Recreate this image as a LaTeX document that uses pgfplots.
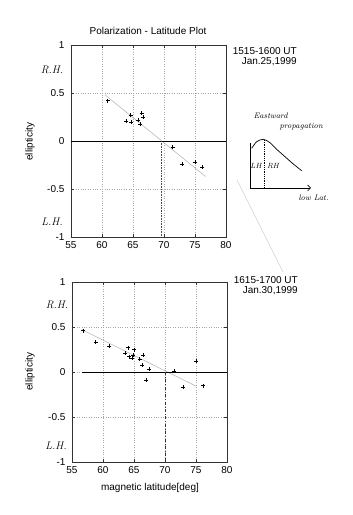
\documentclass[border=0pt]{standalone}
\usepackage{pgfplots}
\pgfplotsset{compat=1.18}
\usetikzlibrary{arrows.meta}
\usepackage{fontspec}
\newfontfamily\sans{Liberation Sans}
\begin{document}
\begin{tikzpicture}[x=1pt,y=1pt]
\useasboundingbox (0,0) rectangle (353pt,515pt);
\fill[white] (0,0) rectangle (353pt,515pt);
\pgfplotsset{
  myax/.style={
    scale only axis, anchor=south west,
    xmin=55, xmax=80, ymin=-1, ymax=1,
    xtick={55,60,65,70,75,80},
    ytick={-1,-0.5,0,0.5,1},
    grid=major, grid style={dotted, black!35, line width=0.4pt},
    tick align=inside, major tick length=3pt,
    tick style={black!80, line width=0.5pt},
    axis line style={black!80, line width=0.6pt},
    ticklabel style={font=\sans\fontsize{10}{12}\selectfont},
    /pgf/number format/assume math mode=true,
    yticklabel style={xshift=-3pt},
    xticklabel style={yshift=-1pt},
    clip=false,
  },
  pts/.style={only marks, mark=+, mark size=2pt, black, mark options={line width=0.5pt}},
}
% ---------------- top plot ----------------
\begin{axis}[myax, at={(71pt,278pt)}, width=155pt, height=192pt]
\addplot[black!30, line width=0.5pt] coordinates {(60.5,0.48) (76.7,-0.37)};
\addplot[black, line width=0.6pt] coordinates {(55,0) (80,0)};
\addplot[black!70, densely dotted, line width=0.6pt] coordinates {(69.6,0) (69.6,-1)};
\addplot[pts] coordinates {
(60.9,0.42) (64.6,0.27) (63.9,0.21) (64.7,0.20) (65.8,0.22) (66.4,0.29)
(66.6,0.25) (66.2,0.175) (71.4,-0.065) (72.9,-0.24) (75.0,-0.22) (76.1,-0.27)
};
\end{axis}
% ---------------- bottom plot ----------------
\begin{axis}[myax, at={(72pt,53pt)}, width=155pt, height=180pt]
\addplot[black!30, line width=0.5pt] coordinates {(56.6,0.47) (74.95,-0.155)};
\addplot[black, line width=0.6pt] coordinates {(56.6,0) (80,0)};
\addplot[black!80, dashdotted, line width=0.6pt] coordinates {(70,0) (70,-1)};
\addplot[pts] coordinates {
(56.8,0.46) (58.8,0.33) (61.0,0.285) (64.0,0.27) (65.05,0.25) (63.6,0.21)
(64.2,0.17) (64.8,0.19) (64.7,0.155) (66.45,0.185) (65.9,0.14) (66.3,0.075)
(67.4,0.03) (67.0,-0.09) (71.5,0.01) (72.9,-0.17) (75.05,0.12) (76.1,-0.15)
};
\end{axis}
% ---------------- sketch inset ----------------
\begin{axis}[at={(235pt,305pt)}, anchor=south west, scale only axis, hide axis,
  width=100pt, height=100pt, xmin=235, xmax=335, ymin=305, ymax=405, clip=false]
\addplot[black, line width=0.6pt] coordinates {(250,371.7) (250,327) (310,327)};
\addplot[black, line width=0.6pt, -{Straight Barb[length=3pt]}] coordinates {(300,327) (311,327)};
\addplot[black, line width=0.7pt, smooth] coordinates {
(251.7,366.7) (256.7,373.3) (263.3,375.7) (270,372.3) (276.7,365.7)
(285,358.3) (293.3,351) (301.7,344.3)};
\addplot[black, densely dotted, line width=0.8pt] coordinates {(264,375) (264,327)};
\end{axis}
\node[font=\itshape\fontsize{8}{9}\selectfont, anchor=west] at (250pt,399pt) {Eastward};
\node[font=\itshape\fontsize{8}{9}\selectfont, anchor=west] at (276pt,388.3pt) {propagation};
\node[font=\itshape\fontsize{7.5}{9}\selectfont] at (256pt,349.3pt) {LH};
\node[font=\itshape\fontsize{7.5}{9}\selectfont] at (273pt,349.3pt) {RH};
\node[font=\itshape\fontsize{8}{9}\selectfont, anchor=west] at (295pt,317pt) {low Lat.};
\draw[black!25, line width=0.4pt] (237pt,335pt) -- (283pt,243pt);
% ---------------- texts ----------------
\node[font=\sans\fontsize{10}{12}\selectfont] at (148pt,484pt) {Polarization - Latitude Plot};
\node[font=\sans\fontsize{10}{12}\selectfont, rotate=90] at (30pt,373.3pt) {ellipticity};
\node[font=\sans\fontsize{10}{12}\selectfont, rotate=90] at (30pt,143.3pt) {ellipticity};
\node[font=\sans\fontsize{10}{12}\selectfont] at (150pt,27pt) {magnetic latitude[deg]};
\node[font=\sans\fontsize{10}{10}\selectfont, anchor=north east, align=right, inner sep=0pt] at (297pt,468pt) {1515-1600 UT\\Jan.25,1999};
\node[font=\sans\fontsize{10}{10}\selectfont, anchor=north east, align=right, inner sep=0pt] at (298pt,238.5pt) {1615-1700 UT\\Jan.30,1999};
\node[font=\itshape\fontsize{11}{12}\selectfont] at (52pt,445pt) {R.H.};
\node[font=\itshape\fontsize{11}{12}\selectfont] at (52pt,293pt) {L.H.};
\node[font=\itshape\fontsize{11}{12}\selectfont] at (57pt,210pt) {R.H.};
\node[font=\itshape\fontsize{11}{12}\selectfont] at (56pt,69.3pt) {L.H.};
\end{tikzpicture}
\end{document}
